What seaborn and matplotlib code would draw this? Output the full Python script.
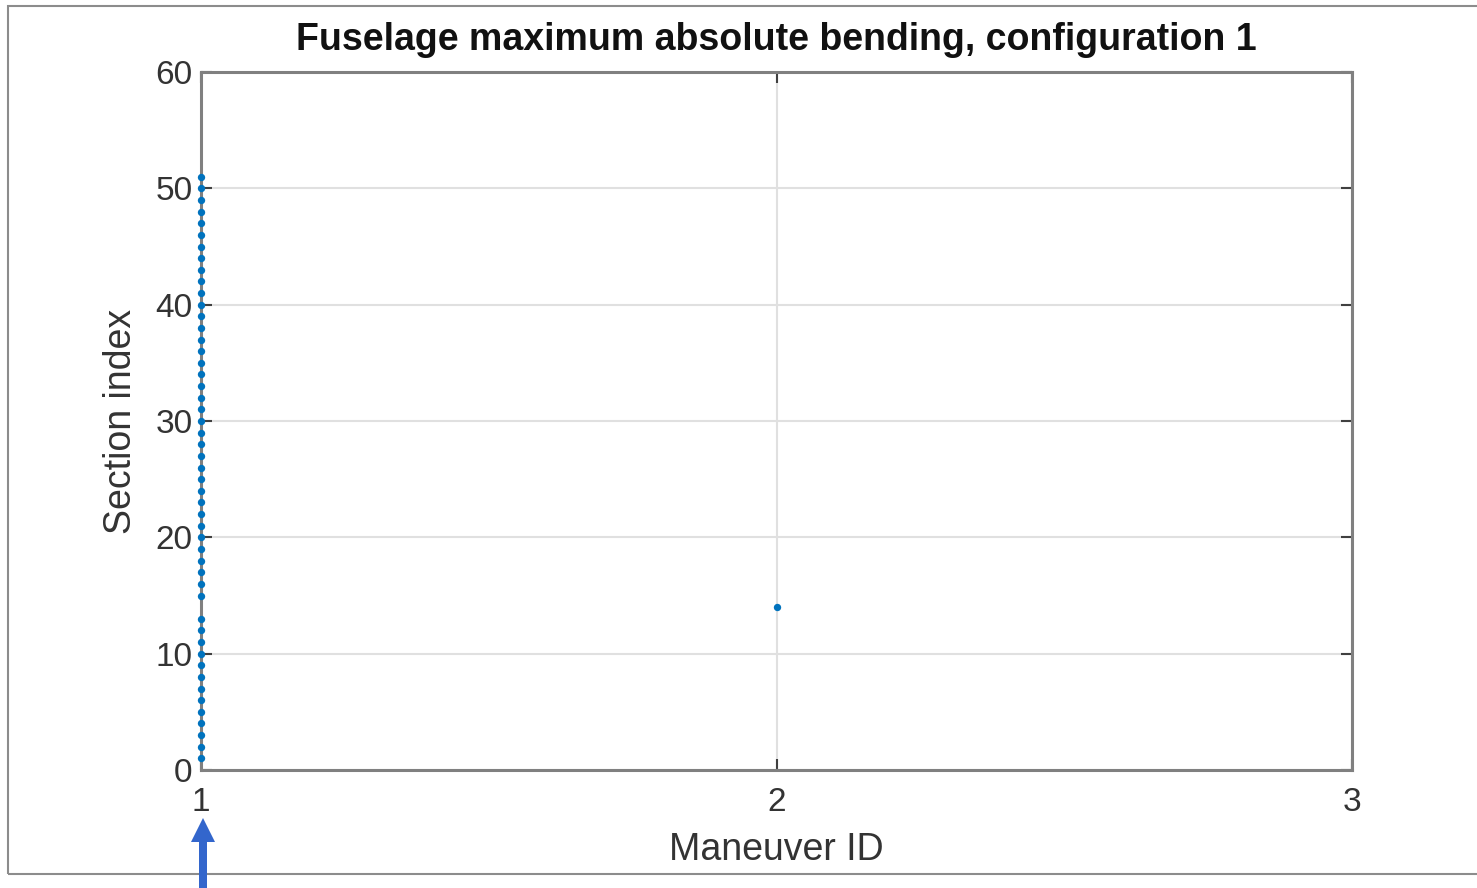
import numpy as np
import pandas as pd
import matplotlib
matplotlib.use("Agg")
import matplotlib.pyplot as plt
from matplotlib.patches import Rectangle, FancyArrow
import seaborn as sns

# Data: section index at which maximum absolute bending occurs, per maneuver
maneuver_1_sections = [s for s in range(1, 52) if s != 14]
maneuver_2_sections = [14]
x_ticks = [1, 2, 3]
y_ticks = [0, 10, 20, 30, 40, 50, 60]

df = pd.DataFrame({
    "Maneuver ID": [1] * len(maneuver_1_sections) + [2] * len(maneuver_2_sections),
    "Section index": maneuver_1_sections + maneuver_2_sections,
})

sns.set_theme(style="white")
plt.rcParams['font.family'] = ['Liberation Sans', 'DejaVu Sans']

W, H = 1477, 888
fig = plt.figure(figsize=(W / 100, H / 100), dpi=100)
ax = fig.add_axes([201 / W, 1 - 770 / H, (1352 - 201) / W, (770 - 72) / H])

sns.scatterplot(data=df, x="Maneuver ID", y="Section index", ax=ax,
                color="#0072BD", s=28, linewidth=0, zorder=3, clip_on=False)

ax.set_xlim(1, 3)
ax.set_ylim(0, 60)
ax.set_xticks(x_ticks)
ax.set_yticks(y_ticks)
ax.grid(True, color="#e0e0e0", linewidth=1.5)
ax.set_axisbelow(True)
for sp in ax.spines.values():
    sp.set_color("#808080")
    sp.set_linewidth(2.2)
    sp.set_visible(True)
ax.tick_params(axis="both", direction="in", length=8, width=1.5, color="#404040",
               labelsize=24, labelcolor="#333333", top=True, right=True,
               bottom=True, left=True)
ax.tick_params(axis="x", pad=12)
ax.tick_params(axis="y", pad=6)
ax.set_xlabel("Maneuver ID", fontsize=27, color="#333333", labelpad=10)
ax.set_ylabel("Section index", fontsize=27, color="#333333", labelpad=12)
ax.set_title("Fuselage maximum absolute bending, configuration 1",
             fontsize=27, fontweight="bold", color="#111111", pad=16)

# outer frame
fig.patches.append(Rectangle((8 / W, 1 - 874 / H), 1.2, (874 - 6) / H,
                             transform=fig.transFigure, fill=False,
                             edgecolor="#8c8c8c", linewidth=1.5))
# blue arrow pointing to maneuver 1
fig.patches.append(FancyArrow(203 / W, 0.0, 0, (888 - 818) / H,
                              width=8 / W, head_width=24 / W, head_length=24 / H,
                              length_includes_head=True, transform=fig.transFigure,
                              color="#3366CC", linewidth=0))

fig.savefig("out.png", dpi=100)
